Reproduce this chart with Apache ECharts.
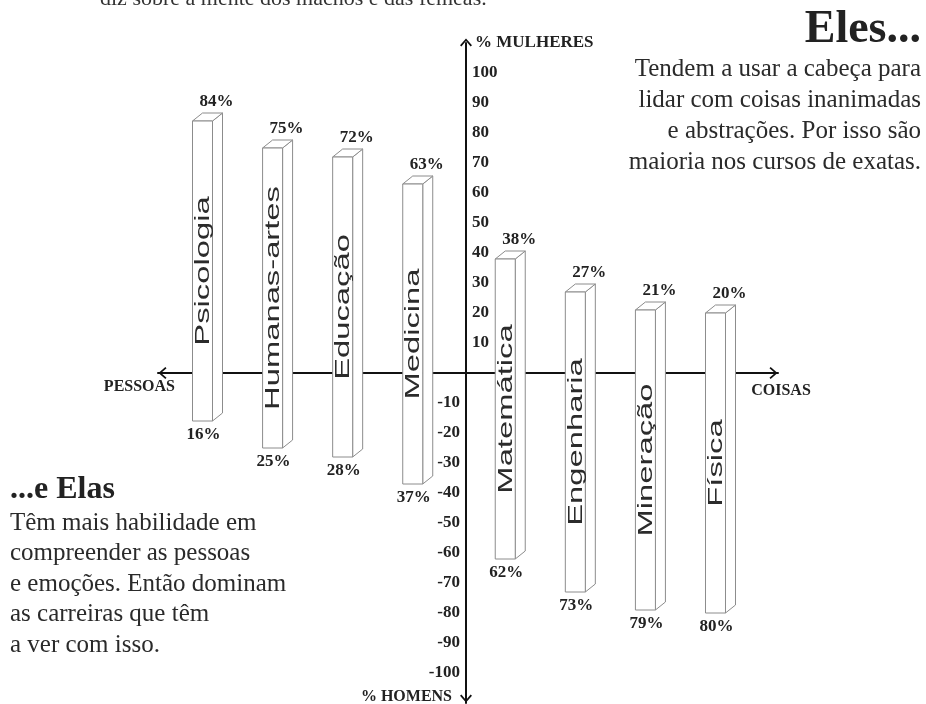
<!DOCTYPE html>
<html>
<head>
<meta charset="utf-8">
<script src="https://cdn.jsdelivr.net/npm/echarts@6/dist/echarts.min.js"></script>
<style>
html,body{margin:0;padding:0;background:#fff;}
#c{width:926px;height:704px;}
</style>
</head>
<body>
<div id="c"></div>
<script>
// ---- data ----
const categories = ['Psicologia', 'Humanas-artes', 'Educação', 'Medicina', 'Matemática', 'Engenharia', 'Mineração', 'Física'];
const womenPct = [84, 75, 72, 63, 38, 27, 21, 20];
const menPct = [16, 25, 28, 37, 62, 73, 79, 80];
// first four careers sit on the "people" side, the rest on the "things" side
const peopleSideCount = 4;

// ---- texts ----
const headLine = 'diz sobre a mente dos machos e das fêmeas.';
const elesTitle = 'Eles...';
const elesText = ['Tendem a usar a cabeça para', 'lidar com coisas inanimadas', 'e abstrações. Por isso são', 'maioria nos cursos de exatas.'];
const elasTitle = '...e Elas';
const elasText = ['Têm mais habilidade em', 'compreender as pessoas', 'e emoções. Então dominam', 'as carreiras que têm', 'a ver com isso.'];
const axisNames = { up: '% MULHERES', down: '% HOMENS', left: 'PESSOAS', right: 'COISAS' };

const SERIF = '"Liberation Serif", "Times New Roman", serif';
const SANS = '"Liberation Sans", Arial, sans-serif';
const INK = '#222';

const arrowPath = 'path://M0,0 L7,8 L5.4,9.4 L0,3 L-5.4,9.4 L-7,8 Z';
const ARW = [12, 9];
const axisLineStyle = { color: '#111', width: 2 };
const Y_MIN = -110, Y_MAX = 110, Y_STEP = 10;
const SIDE_GAP = 0.32; // extra space between the two groups around the vertical axis

const chart = echarts.init(document.getElementById('c'), null, { renderer: 'canvas' });

const FW = 20, DX = 10, DY = 8;
const tickFont = { fontFamily: SERIF, fontWeight: 'bold', fontSize: 17, color: INK };

const option = {
  backgroundColor: '#fff',
  animation: false,
  grid: [
    { left: 158, right: 148, top: 43, bottom: 1, containLabel: false, outerBoundsMode: 'none' },
    { left: 466, width: 20, top: 43, bottom: 1, containLabel: false, outerBoundsMode: 'none' }
  ],
  xAxis: [
    {
      gridIndex: 0, type: 'value', min: -0.635, max: 8.212,
      axisLine: { onZero: true, lineStyle: axisLineStyle, symbol: [arrowPath, arrowPath], symbolSize: ARW, symbolOffset: [ARW[1] / 2, -ARW[1] / 2] },
      axisTick: { show: false }, axisLabel: { show: false }, splitLine: { show: false },
      name: axisNames.right, nameLocation: 'end', nameGap: 3, nameMoveOverlap: false,
      nameTextStyle: Object.assign({ align: 'center', verticalAlign: 'top', padding: [10, 0, 0, 0] }, tickFont, { fontSize: 16 })
    },
    { gridIndex: 1, type: 'value', min: -1, max: 1, show: false }
  ],
  yAxis: [
    { gridIndex: 0, type: 'value', min: Y_MIN, max: Y_MAX, show: false },
    {
      gridIndex: 1, type: 'value', min: Y_MIN, max: Y_MAX, interval: Y_STEP, position: 'left',
      axisLine: { onZero: false, lineStyle: axisLineStyle, symbol: [arrowPath, arrowPath], symbolSize: ARW, symbolOffset: [ARW[1] / 2, 0.5] },
      axisTick: { show: false }, splitLine: { show: false },
      axisLabel: Object.assign({ inside: true, margin: 6, formatter: v => (v > 0 && v <= 100) ? String(v) : '' }, tickFont),
      name: axisNames.up, nameLocation: 'end', nameGap: 0, nameMoveOverlap: false,
      nameTextStyle: Object.assign({ align: 'left', verticalAlign: 'middle', padding: [0, 0, 0, 9] }, tickFont)
    },
    {
      gridIndex: 1, type: 'value', min: Y_MIN, max: Y_MAX, interval: Y_STEP, position: 'left',
      axisLine: { show: false, onZero: false },
      axisTick: { show: false }, splitLine: { show: false },
      axisLabel: Object.assign({ inside: false, margin: 6, formatter: v => (v < 0 && v >= -100) ? String(v) : '' }, tickFont),
      name: axisNames.down, nameLocation: 'start', nameGap: -6, nameMoveOverlap: false,
      nameTextStyle: Object.assign({ align: 'right', verticalAlign: 'middle', padding: [0, 14, 0, 0] }, tickFont, { fontSize: 16 })
    }
  ],
  series: [{
    type: 'custom',
    xAxisIndex: 0, yAxisIndex: 0,
    z: 5,
    data: categories.map((c, i) => [i + (i >= peopleSideCount ? SIDE_GAP : 0), womenPct[i], menPct[i]]),
    encode: { x: 0, y: [1, 2] },
    renderItem: function (params, api) {
      const xv = api.value(0);
      const w = api.value(1);
      const m = api.value(2);
      const top = api.coord([xv, w]);
      const bot = api.coord([xv, -m]);
      const cx = top[0];
      const x0 = cx - FW / 2, x1 = cx + FW / 2;
      const yt = top[1], yb = bot[1];
      const edge = { stroke: '#8c8c8c', lineWidth: 1, fill: '#fff' };
      return {
        type: 'group',
        children: [
          { type: 'polygon', shape: { points: [[x1, yt], [x1 + DX, yt - DY], [x1 + DX, yb - DY], [x1, yb]] }, style: edge },
          { type: 'polygon', shape: { points: [[x0, yt], [x0 + DX, yt - DY], [x1 + DX, yt - DY], [x1, yt]] }, style: edge },
          { type: 'rect', shape: { x: x0, y: yt, width: FW, height: yb - yt }, style: edge },
          {
            type: 'text', x: cx + 0.5, y: (yt + yb) / 2, rotation: Math.PI / 2, scaleX: 1.56,
            style: { text: categories[params.dataIndex], fontFamily: SANS, fontSize: 21, fill: '#2b2b2b', align: 'center', verticalAlign: 'middle' }
          },
          {
            type: 'text', x: cx + 14, y: yt - 19,
            style: { text: w + '%', fontFamily: SERIF, fontWeight: 'bold', fontSize: 17, fill: INK, align: 'center', verticalAlign: 'middle' }
          },
          {
            type: 'text', x: cx + 1, y: yb + 14,
            style: { text: m + '%', fontFamily: SERIF, fontWeight: 'bold', fontSize: 17, fill: INK, align: 'center', verticalAlign: 'middle' }
          }
        ]
      };
    }
  }],
  graphic: [
    { type: 'text', x: 100, y: -1, style: { text: headLine, font: '22px ' + SERIF, fill: '#333', align: 'left', verticalAlign: 'middle' } },
    { type: 'text', x: 921, y: 30, style: { text: elesTitle, font: 'bold 46px ' + SERIF, fill: INK, align: 'right', verticalAlign: 'middle' } },
    { type: 'text', x: 921, y: 54, style: { text: elesText.join('\n'), font: '25px ' + SERIF, lineHeight: 31, fill: '#2a2a2a', align: 'right', verticalAlign: 'top' } },
    { type: 'text', x: 10, y: 490, style: { text: elasTitle, font: 'bold 32px ' + SERIF, fill: INK, align: 'left', verticalAlign: 'middle' } },
    { type: 'text', x: 10, y: 508, style: { text: elasText.join('\n'), font: '25px ' + SERIF, lineHeight: 30.5, fill: '#2a2a2a', align: 'left', verticalAlign: 'top' } },
    { type: 'text', x: 175, y: 387, style: { text: axisNames.left, font: 'bold 16px ' + SERIF, fill: INK, align: 'right', verticalAlign: 'middle' } }
  ]
};
chart.setOption(option);
</script>
</body>
</html>
